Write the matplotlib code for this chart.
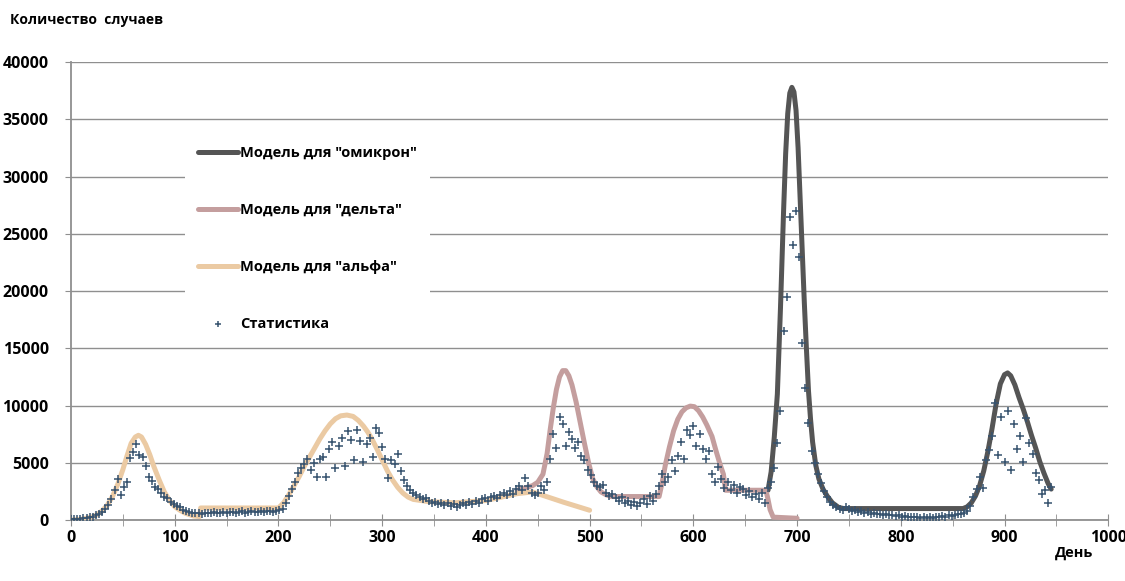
import matplotlib
matplotlib.use("Agg")
import matplotlib.pyplot as plt
from matplotlib.ticker import MultipleLocator

plt.rcParams['font.family'] = ['Open Sans', 'DejaVu Sans']
plt.rcParams['font.weight'] = 'bold'

# ---- данные ----
alpha_days = [0, 10, 20, 25, 30, 35, 40, 45, 50, 54, 58, 62, 65, 68, 72, 76, 80, 85, 90, 95,
              100, 105, 110, 118, 124, 125,
              200, 205, 210, 215, 220, 225, 230, 235, 240, 245, 250, 255, 260, 266, 272, 277,
              282, 286, 290, 295, 300, 305, 310, 315, 320, 325, 330, 345, 370, 400, 430, 445,
              450, 475, 500]
alpha_vals = [0, 60, 250, 450, 800, 1300, 2050, 3100, 4400, 5600, 6700, 7250, 7400, 7250, 6600,
              5700, 4650, 3500, 2450, 1700, 1170, 850, 600, 350, 300, 1050,
              1050, 1500, 2200, 3000, 3800, 4700, 5500, 6300, 7100, 7800, 8400, 8850, 9100, 9170,
              9050, 8700, 8200, 7700, 7100, 6200, 5250, 4300, 3500, 2850, 2350, 2000, 1800, 1600,
              1500, 1700, 2300, 2450, 2300, 1550, 850]

delta_days = [430, 445, 450, 455, 459, 462, 465, 468, 471, 474, 477, 480, 483, 487, 491, 495,
              499, 503, 507, 511, 516, 521, 567, 570, 573, 577, 581, 585, 589, 593, 597, 601,
              605, 609, 613, 618, 622, 626, 629, 631, 670, 672, 674, 677, 700]
delta_vals = [2600, 3000, 3300, 4000, 5800, 7900, 9800, 11400, 12500, 13050, 13050, 12600, 11800,
              10300, 8500, 6700, 5000, 3600, 2900, 2450, 2200, 2050, 2050, 3300, 4800, 6400, 7800,
              8800, 9450, 9800, 9950, 9900, 9550, 9000, 8300, 7300, 6000, 4800, 4000, 2600, 2600,
              1800, 900, 250, 150]

omicron_days = [672, 675, 678, 681, 684, 687, 689, 691, 693, 695, 697, 699, 701, 703, 705, 707,
                709, 711, 713, 715, 718, 721, 725, 729, 734, 740, 745, 860, 864, 868, 872, 876,
                880, 884, 888, 892, 896, 900, 903, 906, 910, 914, 918, 922, 926, 930, 934, 938,
                942, 945]
omicron_vals = [2600, 4200, 7200, 11000, 18500, 27000, 32000, 35500, 37300, 37800, 37400, 35800,
                32500, 28000, 23500, 19000, 15000, 11300, 8800, 6800, 4800, 3600, 2700, 2100, 1500,
                1100, 1000, 1000, 1150, 1500, 2100, 3000, 4300, 6000, 8000, 10200, 11900, 12700,
                12850, 12600, 11800, 10700, 9700, 8600, 7400, 6300, 5100, 4100, 3200, 2700]

stat_days = list(range(0, 946, 3))
stat_vals = [
    50, 80, 100, 120, 150, 200, 250, 300, 400, 500,
    700, 1000, 1300, 1800, 2600, 3600, 2200, 2900, 3300, 5400,
    5900, 6600, 5700, 5500, 4700, 3800, 3400, 2900, 2700, 2400,
    2000, 1900, 1600, 1400, 1200, 1100, 900, 800, 700, 650,
    600, 600, 550, 600, 650, 600, 700, 650, 600, 700,
    650, 700, 700, 650, 700, 750, 650, 700, 750, 700,
    700, 750, 700, 800, 750, 700, 800, 900, 1000, 1500,
    2100, 2700, 3300, 4100, 4500, 4900, 5300, 4400, 5000, 3800,
    5300, 5500, 3800, 6200, 6800, 4500, 6500, 7200, 4700, 7800,
    7000, 5200, 7900, 6900, 5100, 6600, 7200, 5500, 8000, 7600,
    6400, 5300, 3700, 5200, 4900, 5800, 4300, 3500, 3000, 2600,
    2400, 2200, 2000, 1800, 1900, 1700, 1500, 1600, 1400, 1500,
    1300, 1500, 1200, 1400, 1100, 1300, 1500, 1300, 1600, 1400,
    1700, 1500, 1800, 1900, 1700, 2000, 2100, 1900, 2200, 2400,
    2200, 2500, 2300, 2700, 3000, 2600, 3700, 3000, 2400, 2200,
    2400, 3000, 2600, 3300, 5300, 7500, 6300, 9000, 8400, 6500,
    7700, 7100, 6300, 6800, 5600, 5200, 4400, 3900, 3300, 3000,
    2900, 3100, 2400, 2100, 2300, 1900, 1700, 2000, 1500, 1700,
    1300, 1600, 1200, 1500, 1800, 1400, 2100, 1700, 2300, 3000,
    4000, 3300, 3800, 5200, 4300, 5600, 6800, 5300, 7900, 7400,
    8200, 6500, 7500, 6200, 5300, 6000, 4000, 3300, 4600, 3600,
    2800, 3300, 2600, 3100, 2400, 2900, 2700, 2200, 2500, 2000,
    2300, 1800, 2400, 1500, 2800, 3300, 4500, 6700, 9500, 16500,
    19500, 26500, 24000, 27000, 23000, 15500, 11500, 8500, 6000, 5000,
    4000, 3200, 2500, 2000, 1600, 1300, 1100, 1000, 900, 1100,
    1000, 800, 900, 700, 800, 600, 700, 550, 650, 500,
    550, 450, 500, 400, 450, 350, 400, 300, 350, 250,
    300, 250, 300, 200, 250, 200, 250, 200, 300, 250,
    350, 300, 400, 350, 450, 500, 550, 600, 800, 1200,
    2000, 2700, 3800, 2800, 5200, 6100, 7300, 10200, 5700, 9000,
    5100, 9500, 4400, 8400, 6200, 7300, 5100, 8900, 6700, 5800,
    4100, 3500, 2300, 2600, 1500, 2900,
]

C_OMICRON = "#555555"
C_DELTA = "#c49e9e"
C_ALPHA = "#ebcaa3"
C_STAT = "#37536f"
C_GRID = "#8f8f8f"

fig = plt.figure(figsize=(11.25, 5.81), dpi=100, facecolor="white")
ax = fig.add_axes([0.0631, 0.105, 0.922, 0.788])

line_kw = dict(lw=3.6, solid_joinstyle="round", solid_capstyle="round", zorder=3)
ax.plot(omicron_days, omicron_vals, color=C_OMICRON, label='Модель для "омикрон"', **line_kw)
ax.plot(delta_days, delta_vals, color=C_DELTA, label='Модель для "дельта"', **line_kw)
ax.plot(alpha_days, alpha_vals, color=C_ALPHA, label='Модель для "альфа"', **line_kw)
ax.scatter(stat_days, stat_vals, marker="+", s=40, linewidths=1.1, color=C_STAT,
           label="Статистика", zorder=4)

ax.set_xlim(0, 1000)
ax.set_ylim(0, 40000)
ax.xaxis.set_major_locator(MultipleLocator(100))
ax.xaxis.set_minor_locator(MultipleLocator(50))
ax.yaxis.set_major_locator(MultipleLocator(5000))
ax.grid(axis="y", color=C_GRID, lw=1.0, zorder=0)
ax.set_axisbelow(True)

for s in ("top", "right"):
    ax.spines[s].set_visible(False)
for s in ("left", "bottom"):
    ax.spines[s].set_color(C_GRID)
    ax.spines[s].set_linewidth(1.3)

ax.tick_params(axis="x", which="both", direction="inout", length=8, color=C_GRID,
               labelsize=11.5, pad=3)
ax.tick_params(axis="y", direction="out", length=4, color=C_GRID, labelsize=11.5, pad=12)
for lab in ax.get_xticklabels() + ax.get_yticklabels():
    lab.set_fontweight("bold")

leg = ax.legend(loc="upper left", bbox_to_anchor=(0.103, 0.862), frameon=True,
                facecolor="white", edgecolor="none", framealpha=1, fontsize=10.5,
                handlelength=2.7, handletextpad=0.15, labelspacing=2.95, borderpad=0.9,
                markerscale=0.7)
leg.set_zorder(5)
for t in leg.get_texts():
    t.set_fontweight("bold")

fig.text(0.009, 0.965, "Количество  случаев", fontsize=10, fontweight="bold", va="center")
fig.text(0.938, 0.048, "День", fontsize=10.5, fontweight="bold", va="center")

fig.savefig("out.png", dpi=100, facecolor="white")
